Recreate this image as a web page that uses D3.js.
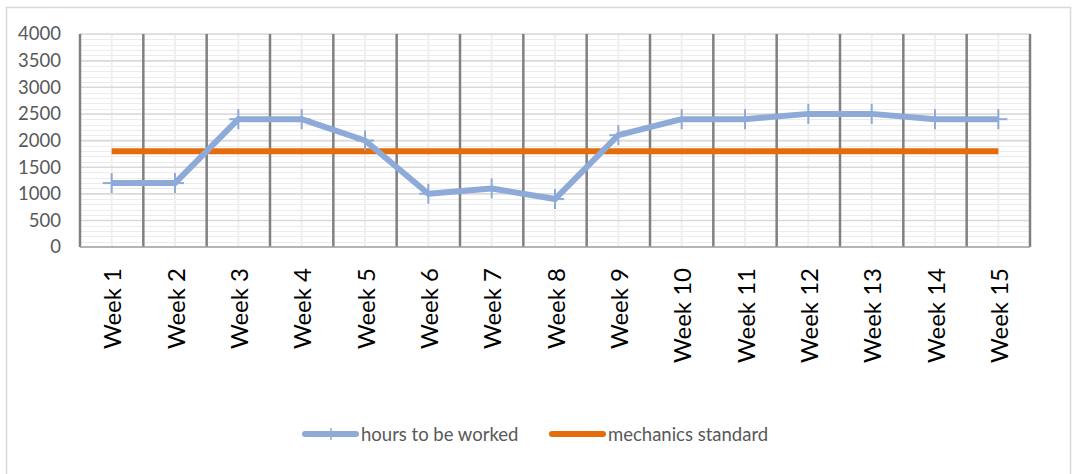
<!DOCTYPE html>
<html><head><meta charset="utf-8">
<script src="https://cdn.jsdelivr.net/npm/d3@7"></script>
<style>body{margin:0;background:#fff}svg{display:block}text{font-family:Lato,"Open Sans",sans-serif;fill:#595959}</style>
</head><body>
<svg id="c" width="1073" height="474"></svg>
<script>
const categories = ["Week 1","Week 2","Week 3","Week 4","Week 5","Week 6","Week 7","Week 8","Week 9","Week 10","Week 11","Week 12","Week 13","Week 14","Week 15"];
const hoursToBeWorked = [1200,1200,2400,2400,2000,1000,1100,900,2100,2400,2400,2500,2500,2400,2400];
const mechanicsStandard = [1800,1800,1800,1800,1800,1800,1800,1800,1800,1800,1800,1800,1800,1800,1800];
const yTicks = [0,500,1000,1500,2000,2500,3000,3500,4000];
const seriesNames = ["hours to be worked","mechanics standard"];

const svg = d3.select("#c");
const L=80,R=1030,T=34,B=247;
const blue="#8eaad8", orange="#e46c0a";

svg.append("rect").attr("x",6.5).attr("y",7.5).attr("width",1064).attr("height",480)
  .attr("fill","#fff").attr("stroke","#d9d9d9").attr("stroke-width",1.5);

const x = d3.scaleBand().domain(categories).range([L,R]);
const y = d3.scaleLinear().domain([0,4000]).range([B,T]);

const g = svg.append("g");
g.selectAll(".hmin").data(d3.range(0,4001,100)).join("line")
  .attr("x1",L).attr("x2",R).attr("y1",d=>Math.round(y(d))+0.5).attr("y2",d=>Math.round(y(d))+0.5)
  .attr("stroke","#ececec").attr("stroke-width",1);
g.selectAll(".vmin").data(categories).join("line")
  .attr("x1",d=>x(d)+x.bandwidth()/2).attr("x2",d=>x(d)+x.bandwidth()/2).attr("y1",T).attr("y2",B)
  .attr("stroke","#efefef").attr("stroke-width",2);
g.selectAll(".hmaj").data(yTicks).join("line")
  .attr("x1",L).attr("x2",R).attr("y1",d=>y(d)).attr("y2",d=>y(d))
  .attr("stroke","#d9d9d9").attr("stroke-width",1.5);
g.selectAll(".vmaj").data(categories.slice(1)).join("line")
  .attr("x1",d=>x(d)).attr("x2",d=>x(d)).attr("y1",T).attr("y2",B)
  .attr("stroke","#808080").attr("stroke-width",2.5);
g.append("line").attr("x1",L).attr("x2",L).attr("y1",T).attr("y2",B).attr("stroke","#808080").attr("stroke-width",2.5);
g.append("line").attr("x1",R).attr("x2",R).attr("y1",T).attr("y2",B).attr("stroke","#808080").attr("stroke-width",2.5);
g.append("line").attr("x1",L).attr("x2",R).attr("y1",B).attr("y2",B).attr("stroke","#a6a6a6").attr("stroke-width",1.5);

const ya = svg.append("g").attr("transform",`translate(${L-19},0)`)
  .call(d3.axisLeft(y).tickValues(yTicks).tickFormat(d3.format("d")).tickSize(0).tickPadding(0));
ya.select(".domain").remove();
ya.selectAll("text").style("font-size","18.5px").style("fill","#595959").style("font-family","Lato,sans-serif");

const xa = svg.append("g").attr("transform",`translate(0,${B})`)
  .call(d3.axisBottom(x).tickSize(0).tickPadding(0));
xa.select(".domain").remove();
xa.selectAll("text").attr("transform","rotate(-90)").attr("text-anchor","end")
  .attr("x",-21).attr("y",1).attr("dy","0.36em")
  .style("font-size","24px").style("fill","#000").style("font-family","Lato,sans-serif");

const cx = d=>x(d)+x.bandwidth()/2;
const line = d3.line().x((d,i)=>cx(categories[i])).y(d=>y(d));

svg.append("path").datum(mechanicsStandard).attr("d",line).attr("fill","none")
  .attr("stroke",orange).attr("stroke-width",6);
svg.append("path").datum(hoursToBeWorked).attr("d",line).attr("fill","none")
  .attr("stroke",blue).attr("stroke-width",6).attr("stroke-linejoin","round");
const mk = svg.append("g").selectAll("g").data(hoursToBeWorked).join("g")
  .attr("transform",(d,i)=>`translate(${cx(categories[i])},${y(d)})`);
mk.append("line").attr("x1",-9).attr("x2",9).attr("stroke",blue).attr("stroke-width",2);
mk.append("line").attr("y1",-10).attr("y2",10).attr("stroke",blue).attr("stroke-width",2);

const leg = svg.append("g");
const items = [{name:seriesNames[0],color:blue,x:305,marker:true},{name:seriesNames[1],color:orange,x:552,marker:false}];
items.forEach(it=>{
  leg.append("line").attr("x1",it.x).attr("x2",it.x+51).attr("y1",434).attr("y2",434)
    .attr("stroke",it.color).attr("stroke-width",6).attr("stroke-linecap","round");
  if(it.marker) leg.append("line").attr("x1",it.x+26).attr("x2",it.x+26).attr("y1",428).attr("y2",440).attr("stroke",it.color).attr("stroke-width",1.5);
  leg.append("text").attr("x",it.x+56).attr("y",434).attr("dy","0.36em").text(it.name)
    .style("font-size","18.5px").style("fill","#595959");
});
</script>
</body></html>
